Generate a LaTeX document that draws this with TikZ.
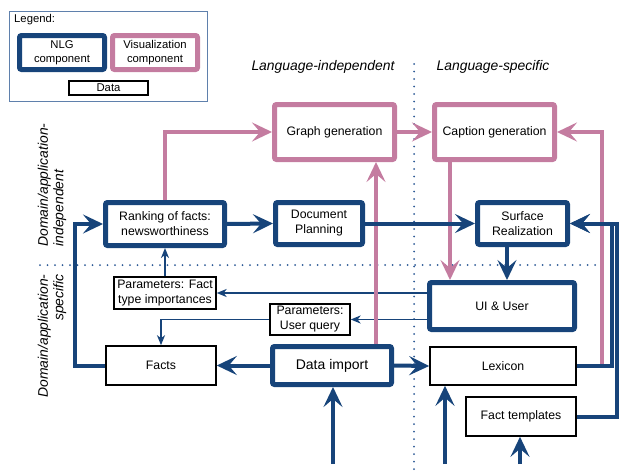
\documentclass[tikz,border=0pt]{standalone}
\usepackage{fontspec}
\setmainfont{Liberation Sans}
\usetikzlibrary{arrows.meta}
\definecolor{nlgblue}{RGB}{23,68,122}
\definecolor{vizpink}{RGB}{196,124,160}
\definecolor{dotblue}{RGB}{45,90,150}
\definecolor{legendframe}{RGB}{95,128,172}
\begin{document}
\begin{tikzpicture}[x=1pt,y=-1pt,
  nlg/.style={draw=nlgblue,line width=5pt,rounded corners=2pt,fill=white,align=center,inner sep=0pt,font=\fontsize{12.3}{15}\selectfont},
  viz/.style={draw=vizpink,line width=5pt,rounded corners=2pt,fill=white,align=center,inner sep=0pt,font=\fontsize{12.3}{15}\selectfont},
  data/.style={draw=black,line width=1.6pt,fill=white,align=center,inner sep=0pt,font=\fontsize{12.3}{15}\selectfont},
  keytext/.style={font=\fontsize{11.3}{14}\selectfont},
  bigflow/.style={line width=4pt,-{Stealth[length=20pt,width=19pt,inset=8pt]}},
  thinflow/.style={draw=nlgblue,line width=1.7pt,-{Stealth[length=10pt,width=8pt,inset=3pt]}},
  divider/.style={draw=dotblue,line width=2pt,line cap=round,dash pattern=on 0pt off 7.5pt},
  lang/.style={font=\fontsize{13.9}{15.5}\selectfont\itshape}]
\useasboundingbox (0,0) rectangle (619,471);

% regions
\coordinate (vtop) at (414,64);
\coordinate (vbot) at (414,471);
\coordinate (hleft) at (40,265);
\coordinate (hright) at (602,265);
\draw[divider] (vtop) -- (vbot);
\draw[divider] (hleft) -- (hright);
\node (langindep) at (323,67) [lang] {Language-independent};
\node (langspec) at (493,67) [lang] {Language-specific};
\node (domindep) at (52,185) [lang,rotate=90,align=left] {Domain/application-\\independent};
\node (domspec) at (52,336) [lang,rotate=90,align=right] {Domain/application-\\specific};

% legend
\node (legend) at (108.5,56.5) [draw=legendframe,line width=1.3pt,minimum width=198pt,minimum height=90pt] {};
\node (legendtitle) at (14,20) [anchor=west,inner sep=0pt,keytext] {Legend:};
\node (keynlg) at (62,52.5) [nlg,keytext,minimum width=85pt,minimum height=34pt] {NLG\\component};
\node (keyviz) at (155,52.5) [viz,keytext,minimum width=85pt,minimum height=34pt] {Visualization\\component};
\node (keydata) at (108.5,88) [data,keytext,line width=1.3pt,minimum width=79pt,minimum height=14pt] {Data};

% components
\node (graph) at (334.5,132) [viz,minimum width=120pt,minimum height=55pt] {Graph generation};
\node (caption) at (494.5,132) [viz,minimum width=120pt,minimum height=55pt] {Caption generation};
\node (ranking) at (165,224) [nlg,minimum width=119pt,minimum height=43pt] {Ranking of facts:\\newsworthiness};
\node (docplan) at (319,223.5) [nlg,minimum width=87pt,minimum height=42pt] {Document\\Planning};
\node (surface) at (522.5,223.5) [nlg,minimum width=90pt,minimum height=42pt] {Surface\\Realization};
\node (ui) at (502,306) [nlg,minimum width=145pt,minimum height=47pt] {UI \& User};
\node (data) at (332,365.5) [nlg,minimum width=119pt,minimum height=38pt,font=\fontsize{14}{16}\selectfont] {Data import};

% data
\node (paramfact) at (165,293) [data,line width=1.3pt,minimum width=102pt,minimum height=32pt] {Parameters: Fact\\type importances};
\node (paramquery) at (310,319.5) [data,line width=1.3pt,minimum width=80pt,minimum height=31pt] {Parameters:\\User query};
\node (facts) at (161,365.5) [data,minimum width=110pt,minimum height=39pt] {Facts};
\node (lexicon) at (503,366) [data,minimum width=146pt,minimum height=38pt] {Lexicon};
\node (templates) at (521,416.5) [data,minimum width=110pt,minimum height=39pt] {Fact templates};

% parameters
\draw[thinflow] (ui.west |- paramfact.east) -- (paramfact.east);
\draw[thinflow] (paramfact.north) -- (ranking.south);
\draw[thinflow] (ui.west |- paramquery.east) -- (paramquery.east);
\draw[thinflow] (paramquery.west) -| (facts.north);

% visualization flow
\draw[bigflow,vizpink] (ranking.north) |- (graph.west);
\draw[bigflow,vizpink] (graph.east) -- (caption.west);
\draw[bigflow,vizpink] ([xshift=44pt]data.north) -- ([xshift=44pt]data.north |- graph.south);
\draw[bigflow,vizpink] ([xshift=-44.5pt]caption.south) -- ([xshift=-44.5pt]caption.south |- ui.north);
\draw[bigflow,vizpink] (lexicon.east) -- ++(25,0) |- (caption.east);

% NLG flow
\draw[bigflow,nlgblue] (ranking.east) -- (docplan.west);
\draw[bigflow,nlgblue] (docplan.east) -- (surface.west);
\draw[bigflow,nlgblue] ([xshift=-15.5pt]surface.south) -- ([xshift=-15.5pt]surface.south |- ui.north);
\draw[bigflow,nlgblue] (facts.west) -- ++(-30,0) |- (ranking.west);
\draw[bigflow,nlgblue] (data.west) -- (facts.east);
\draw[bigflow,nlgblue] (data.east) -- (lexicon.west);
\draw[bigflow,nlgblue] (lexicon.east) -- ++(35,0) |- (surface.east);
\draw[bigflow,nlgblue] (templates.east) -- ++(40,0) |- (surface.east);

% inputs
\coordinate (indata) at (333,464);
\coordinate (inlex) at (445,464);
\coordinate (intempl) at (520,464);
\draw[bigflow,nlgblue] (indata) -- (indata |- data.south);
\draw[bigflow,nlgblue] (inlex) -- (inlex |- lexicon.south);
\draw[bigflow,nlgblue] (intempl) -- (intempl |- templates.south);

\end{tikzpicture}
\end{document}
